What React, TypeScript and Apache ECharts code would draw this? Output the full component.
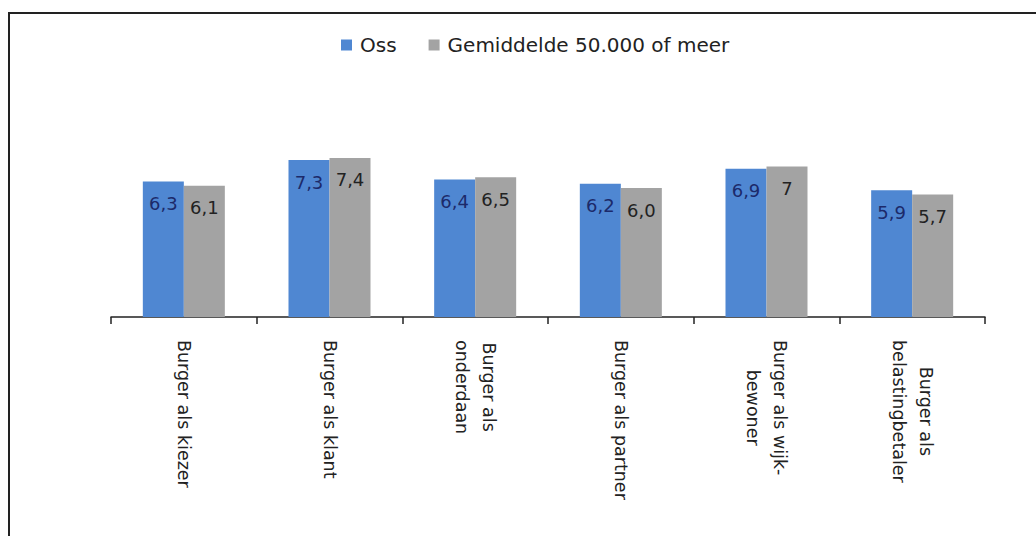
import React, { useEffect, useRef } from "react";
import * as echarts from "echarts";

const categories = [
  "Burger als kiezer",
  "Burger als klant",
  "Burger als\nonderdaan",
  "Burger als partner",
  "Burger als wijk-\nbewoner",
  "Burger als\nbelastingbetaler",
];
const seriesNames = ["Oss", "Gemiddelde 50.000 of meer"];
const ossValues = [6.3, 7.3, 6.4, 6.2, 6.9, 5.9];
const avgValues = [6.1, 7.4, 6.5, 6.0, 7.0, 5.7];
const ossLabels = ["6,3", "7,3", "6,4", "6,2", "6,9", "5,9"];
const avgLabels = ["6,1", "7,4", "6,5", "6,0", "7", "5,7"];

const FONT = "DejaVu Sans";

export default function App() {
  const ref = useRef<HTMLDivElement>(null);
  useEffect(() => {
    if (!ref.current) return;
    const chart = echarts.init(ref.current, undefined, { renderer: "svg" });
    chart.setOption({
      animation: false,
      backgroundColor: "#ffffff",
      legend: {
        left: 336,
        top: 30,
        itemWidth: 11,
        itemHeight: 11,
        itemGap: 32,
        icon: "rect",
        data: seriesNames,
        textStyle: { fontFamily: FONT, fontSize: 20, color: "#222", padding: [0, 0, 0, 3] },
      },
      grid: { left: 111, right: 51, top: 102, bottom: 219 },
      xAxis: {
        type: "category",
        data: categories,
        axisLine: { lineStyle: { color: "#222", width: 1.5 } },
        axisTick: { show: true, length: 7, lineStyle: { color: "#222", width: 1.5 } },
        axisLabel: {
          rotate: -90,
          margin: 23,
          interval: 0,
          formatter: (v: string) =>
            v
              .split("\n")
              .map((l) => `{c|${l}}`)
              .join("\n"),
          rich: {
            c: { align: "center", fontFamily: FONT, fontSize: 17.5, color: "#222", lineHeight: 27 },
          },
        },
      },
      yAxis: { type: "value", min: 0, max: 10, show: false, splitLine: { show: false } },
      series: [
        {
          name: seriesNames[0],
          type: "bar",
          data: ossValues,
          barGap: "0%",
          barCategoryGap: "43.7%",
          itemStyle: { color: "#4f87d2" },
          label: {
            show: true,
            position: "insideTop",
            distance: 13,
            fontFamily: FONT,
            fontSize: 18,
            color: "#1c2a6a",
            formatter: (p: any) => ossLabels[p.dataIndex],
          },
        },
        {
          name: seriesNames[1],
          type: "bar",
          data: avgValues,
          barGap: "0%",
          barCategoryGap: "43.7%",
          itemStyle: { color: "#a3a3a3" },
          label: {
            show: true,
            position: "insideTop",
            distance: 13,
            fontFamily: FONT,
            fontSize: 18,
            color: "#222",
            formatter: (p: any) => avgLabels[p.dataIndex],
          },
        },
      ],
      graphic: [
        {
          type: "rect",
          shape: { x: 9, y: 13, width: 1100, height: 600 },
          style: { fill: "none", stroke: "#222", lineWidth: 2 },
          silent: true,
        },
      ],
    });
    return () => chart.dispose();
  }, []);
  return (
    <div
      ref={ref}
      style={{ position: "fixed", left: 0, top: 0, width: 1036, height: 536 }}
    />
  );
}
